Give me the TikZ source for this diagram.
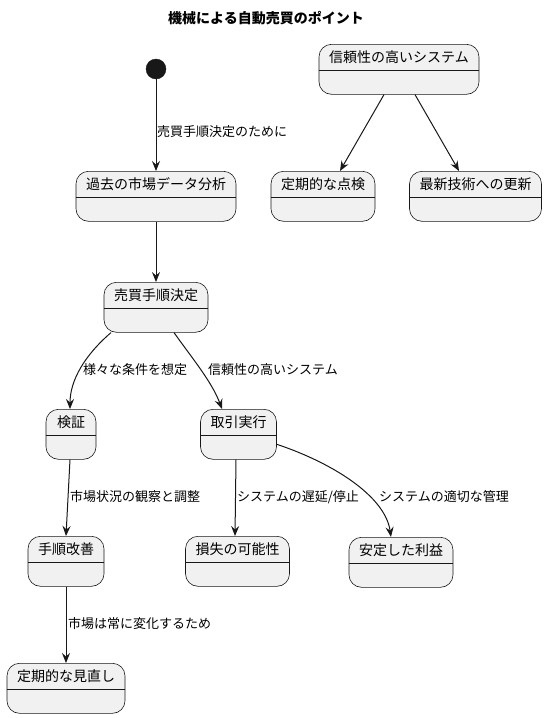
\documentclass[tikz,border=0pt]{standalone}
\usepackage{fontspec}
\setmainfont{Noto Sans CJK JP}
\usetikzlibrary{arrows.meta}
\definecolor{boxfill}{HTML}{F1F1F1}
\definecolor{ink}{HTML}{181818}
\tikzset{
  stbox/.style={draw=ink, fill=boxfill, line width=0.6pt, rounded corners=12.5pt,
    minimum height=50pt, inner sep=0pt},
  sepline/.style={draw=ink, line width=0.6pt},
  sttext/.style={font=\fontsize{14pt}{16pt}\selectfont, inner sep=0pt, text=black},
  elabel/.style={font=\fontsize{13pt}{15pt}\selectfont, inner sep=0pt, anchor=west, text=black},
  trans/.style={draw=ink, line width=1pt, -{Stealth[length=10pt,width=8pt,inset=3.5pt]}},
}
\newcommand\stnode[5]{%
  \node[stbox, minimum width=#4pt, anchor=north] (#1) at (#2,#3) {};
  \draw[sepline] ([yshift=-26pt]#1.north west) -- ([yshift=-26pt]#1.north east);
  \node[sttext] (#1-t) at ([yshift=-13.5pt]#1.north) {#5};
}
\begin{document}
\begin{tikzpicture}[x=1pt,y=-1pt]
\useasboundingbox (0,0) rectangle (547,718);
\node[font=\bfseries\fontsize{14pt}{16pt}\selectfont, inner sep=0pt] (title) at (266,18) {機械による自動売買のポイント};
\node[circle, fill=ink, draw=ink, minimum size=20pt, inner sep=0pt] (init) at (156,69) {};
\stnode{past}{156}{171}{160}{過去の市場データ分析}
\stnode{decide}{156}{282}{104}{売買手順決定}
\stnode{verify}{71}{409}{50}{検証}
\stnode{exec}{238.5}{409}{76}{取引実行}
\stnode{improve}{66}{536}{76}{手順改善}
\stnode{loss}{237.5}{536}{104}{損失の可能性}
\stnode{profit}{401}{537}{104}{安定した利益}
\stnode{review}{66}{663}{118}{定期的な見直し}
\stnode{reliable}{399}{44}{160}{信頼性の高いシステム}
\stnode{inspect}{323}{171}{104}{定期的な点検}
\stnode{update}{475.5}{171}{132}{最新技術への更新}

\draw[trans] (init.south) -- (past.north);
\node[elabel] (l1) at (157,132) {売買手順決定のために};
\draw[trans] (past.south) -- (decide.north);
\draw[trans] ([xshift=-45pt]decide.south) .. controls (85,355) and (70,380) .. ([xshift=-1pt]verify.north);
\node[elabel] (l2) at (83,370) {様々な条件を想定};
\draw[trans] ([xshift=18pt]decide.south) .. controls (192,358) and (212,382) .. ([xshift=-16.5pt]exec.north);
\node[elabel] (l3) at (208,370) {信頼性の高いシステム};
\draw[trans] ([xshift=-1pt]verify.south) -- (improve.north);
\node[elabel] (l4) at (70,497) {市場状況の観察と調整};
\draw[trans] ([xshift=-2.5pt]exec.south) -- ([xshift=-2.5pt]loss.north);
\node[elabel] (l5) at (237,497) {システムの遅延/停止};
\draw[trans] ([yshift=-10pt]exec.east) .. controls (330,462) and (385,495) .. ([xshift=-10pt]profit.north);
\node[elabel] (l6) at (379,497) {システムの適切な管理};
\draw[trans] (improve.south) -- (review.north);
\node[elabel] (l7) at (68,624) {市場は常に変化するため};
\draw[trans] ([xshift=-15pt]reliable.south) -- ([xshift=17pt]inspect.north);
\draw[trans] ([xshift=16pt]reliable.south) -- ([xshift=-16.5pt]update.north);
\end{tikzpicture}
\end{document}
